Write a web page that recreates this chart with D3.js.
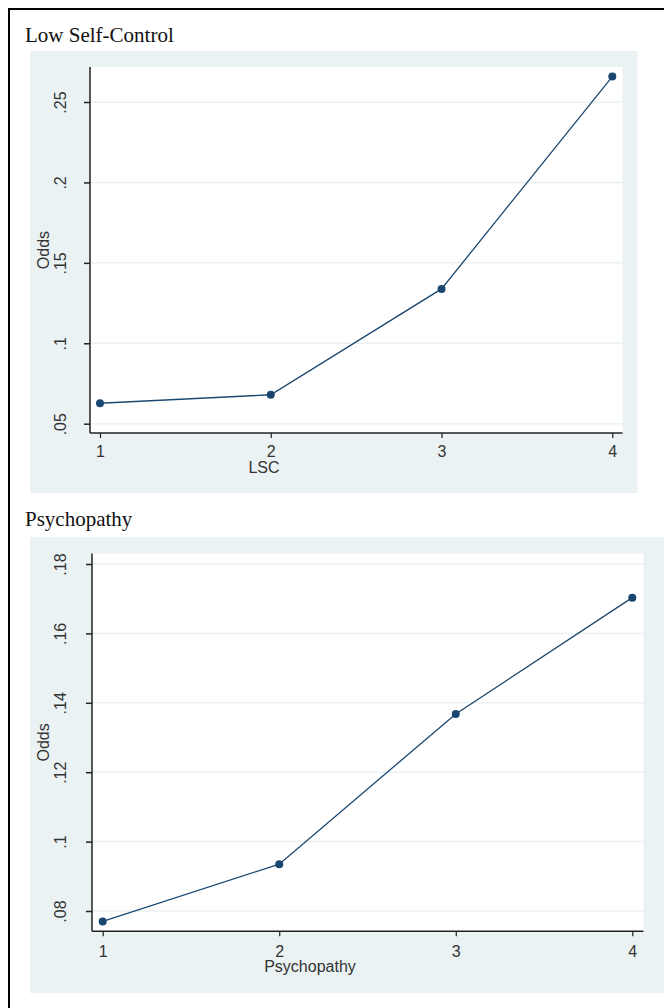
<!DOCTYPE html>
<html><head><meta charset="utf-8">
<script src="https://cdn.jsdelivr.net/npm/d3@7"></script>
<style>
html,body{margin:0;padding:0;background:#fff;}
svg{display:block;}
</style></head>
<body>
<svg id="c" width="664" height="1008"></svg>
<script>
// Data
const lscLevels = [1, 2, 3, 4];
const lscOdds = [0.0627, 0.068, 0.1338, 0.2658];
const lscYTicks = [0.05, 0.1, 0.15, 0.2, 0.25];
const lscYTickLabels = [".05", ".1", ".15", ".2", ".25"];

const psyLevels = [1, 2, 3, 4];
const psyOdds = [0.077, 0.0935, 0.1368, 0.1703];
const psyYTicks = [0.08, 0.1, 0.12, 0.14, 0.16, 0.18];
const psyYTickLabels = [".08", ".1", ".12", ".14", ".16", ".18"];

const xTicks = [1, 2, 3, 4];

const svg = d3.select("#c");
const BG = "#eaf2f3", LINE = "#1a476f", INK = "#222";
const SANS = "'Liberation Sans',Arial,sans-serif";
const FS = 16;

// outer frame
svg.append("rect").attr("x", 9).attr("y", 9).attr("width", 700).attr("height", 1050)
  .attr("fill", "none").attr("stroke", "#000").attr("stroke-width", 2);

function panel(o) {
  const g = svg.append("g");
  g.append("text").attr("x", 25).attr("y", o.titleY).text(o.title)
    .attr("font-family", "'Liberation Serif','Times New Roman',serif")
    .attr("font-size", 21).attr("fill", "#111");
  g.append("rect").attr("x", o.bg[0]).attr("y", o.bg[1])
    .attr("width", o.bg[2] - o.bg[0]).attr("height", o.bg[3] - o.bg[1]).attr("fill", BG);
  const p = o.plot; // [left, top, right, bottom]
  g.append("rect").attr("x", p[0]).attr("y", p[1]).attr("width", p[2] - p[0])
    .attr("height", p[3] - p[1]).attr("fill", "#fff");

  const x = d3.scaleLinear().domain([1, 4]).range(o.xr);
  const y = d3.scaleLinear().domain([o.yTicks[0], o.yTicks[o.yTicks.length - 1]]).range(o.yr);

  // grid
  g.append("g").selectAll("line").data(o.yTicks).join("line")
    .attr("x1", p[0]).attr("x2", p[2]).attr("y1", d => y(d)).attr("y2", d => y(d))
    .attr("stroke", BG).attr("stroke-width", 1.5);

  // y axis
  const ya = g.append("g").attr("transform", `translate(${p[0]},0)`)
    .call(d3.axisLeft(y).tickValues(o.yTicks).tickSize(6).tickFormat((d, i) => o.yLabels[i]));
  ya.attr("font-size", FS).attr("font-family", SANS);
  ya.select(".domain").remove();
  ya.selectAll(".tick line").attr("stroke", INK).attr("stroke-width", 1.5);
  ya.selectAll(".tick text").attr("x", 0).attr("dy", null).attr("y", 0)
    .attr("transform", `translate(${66 - p[0]},0) rotate(-90)`)
    .attr("text-anchor", "middle")
    .attr("font-family", SANS).attr("font-size", FS).attr("fill", "#333");
  g.append("line").attr("x1", p[0]).attr("x2", p[0]).attr("y1", p[1]).attr("y2", p[3])
    .attr("stroke", INK).attr("stroke-width", 1.5);

  // x axis
  const xa = g.append("g").attr("transform", `translate(0,${p[3]})`)
    .call(d3.axisBottom(x).tickValues(xTicks).tickSize(5).tickFormat(d3.format("d")));
  xa.attr("font-size", FS).attr("font-family", SANS);
  xa.select(".domain").remove();
  xa.selectAll(".tick line").attr("stroke", INK).attr("stroke-width", 1.2);
  xa.selectAll(".tick text").attr("y", o.xLabOff).attr("dy", null)
    .attr("font-family", SANS).attr("font-size", FS).attr("fill", "#333");
  g.append("line").attr("x1", p[0]).attr("x2", p[2]).attr("y1", p[3]).attr("y2", p[3])
    .attr("stroke", INK).attr("stroke-width", 1.5);

  // axis titles
  g.append("text").attr("transform", `translate(49,${(p[1] + p[3]) / 2}) rotate(-90)`)
    .attr("text-anchor", "middle").text("Odds")
    .attr("font-family", SANS).attr("font-size", FS).attr("fill", "#333");
  g.append("text").attr("x", o.xTitleX).attr("y", p[3] + o.xTitleOff).attr("text-anchor", "middle").text(o.xTitle)
    .attr("font-family", SANS).attr("font-size", FS).attr("fill", "#333");

  // line + markers
  const pts = o.levels.map((d, i) => [d, o.odds[i]]);
  g.append("path").datum(pts)
    .attr("d", d3.line().x(d => x(d[0])).y(d => y(d[1])))
    .attr("fill", "none").attr("stroke", LINE).attr("stroke-width", 1.3);
  g.append("g").selectAll("circle").data(pts).join("circle")
    .attr("cx", d => x(d[0])).attr("cy", d => y(d[1])).attr("r", 4).attr("fill", LINE);
}

panel({
  title: "Low Self-Control", titleY: 42,
  bg: [30, 51, 637.5, 493], plot: [90, 67, 622.5, 433],
  xr: [100, 612.3], yr: [423.7, 102],
  yTicks: lscYTicks, yLabels: lscYTickLabels,
  levels: lscLevels, odds: lscOdds, xTitle: "LSC", xTitleX: 264,
  xLabOff: 24, xTitleOff: 40
});
panel({
  title: "Psychopathy", titleY: 526,
  bg: [30, 537, 700, 993], plot: [92, 553.5, 643.5, 931.3],
  xr: [102.7, 632.3], yr: [911, 564],
  yTicks: psyYTicks, yLabels: psyYTickLabels,
  levels: psyLevels, odds: psyOdds, xTitle: "Psychopathy", xTitleX: 310,
  xLabOff: 25.5, xTitleOff: 41
});
</script>
</body></html>
